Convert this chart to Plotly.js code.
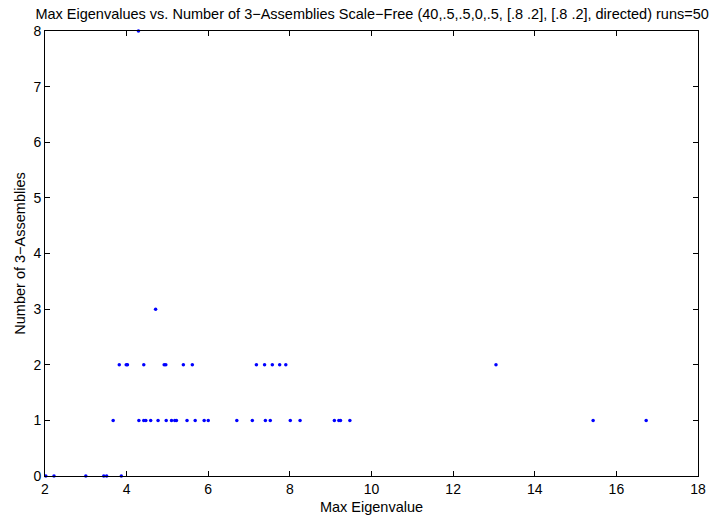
<!DOCTYPE html>
<html>
<head>
<meta charset="utf-8">
<script src="https://cdn.plot.ly/plotly-3.0.1.min.js"></script>
<style>html,body{margin:0;padding:0;background:#fff;}#chart{width:717px;height:521px;}</style>
</head>
<body>
<div id="chart"></div>
<script>
var eig0 = [2.02, 2.22, 3.0, 3.44, 3.51, 3.87];
var eig1 = [3.67, 4.30, 4.42, 4.47, 4.59, 4.77, 4.97, 5.10, 5.18, 5.22, 5.48, 5.68, 5.90, 6.00, 6.70, 7.08, 7.40, 7.52, 8.01, 8.25, 9.09, 9.20, 9.24, 9.47, 15.43, 16.73];
var eig2 = [3.82, 3.99, 4.02, 4.42, 4.92, 4.96, 5.39, 5.61, 7.18, 7.38, 7.57, 7.75, 7.90, 13.05];
var eig3 = [4.71];
var eig8 = [4.29];
var groups = [[eig0, 0], [eig1, 1], [eig2, 2], [eig3, 3], [eig8, 8]];
var xs = [], ys = [];
groups.forEach(function (g) {
  g[0].forEach(function (v) { xs.push(v); ys.push(g[1]); });
});
var xTicks = [2, 4, 6, 8, 10, 12, 14, 16, 18];
var yTicks = [0, 1, 2, 3, 4, 5, 6, 7, 8];

var FONT = 'Liberation Sans, Arial, sans-serif';
var trace = {
  x: xs, y: ys, type: 'scatter', mode: 'markers',
  marker: {color: '#0000ff', size: 3.5},
  cliponaxis: false, hoverinfo: 'none'
};
var axisCommon = {
  showgrid: false, zeroline: false, showline: true, linecolor: '#000', linewidth: 1,
  mirror: 'ticks', ticks: 'inside', ticklen: 5, tickcolor: '#000', tickwidth: 1,
  tickfont: {family: FONT, size: 14, color: '#000'}
};
var layout = {
  width: 717, height: 521,
  margin: {l: 45, r: 19, t: 31, b: 45},
  paper_bgcolor: '#fff', plot_bgcolor: '#fff',
  showlegend: false,
  title: {text: 'Max Eigenvalues vs. Number of 3\u2212Assemblies Scale\u2212Free (40,.5,.5,0,.5, [.8 .2], [.8 .2], directed) runs=50',
          font: {family: FONT, size: 14.5, color: '#000'},
          xref: 'container', x: 0.519, xanchor: 'center', y: 0.973, yanchor: 'middle'},
  xaxis: Object.assign({}, axisCommon, {
    range: [2, 18], tickvals: xTicks, ticktext: xTicks.map(String),
    title: {text: 'Max Eigenvalue', standoff: 6, font: {family: FONT, size: 14.5, color: '#000'}}
  }),
  yaxis: Object.assign({}, axisCommon, {
    range: [0, 8], tickvals: yTicks, ticktext: yTicks.map(String),
    title: {text: 'Number of 3\u2212Assemblies', standoff: 4, font: {family: FONT, size: 14.5, color: '#000'}}
  })
};
Plotly.newPlot('chart', [trace], layout, {displayModeBar: false, staticPlot: true});
</script>
</body>
</html>
